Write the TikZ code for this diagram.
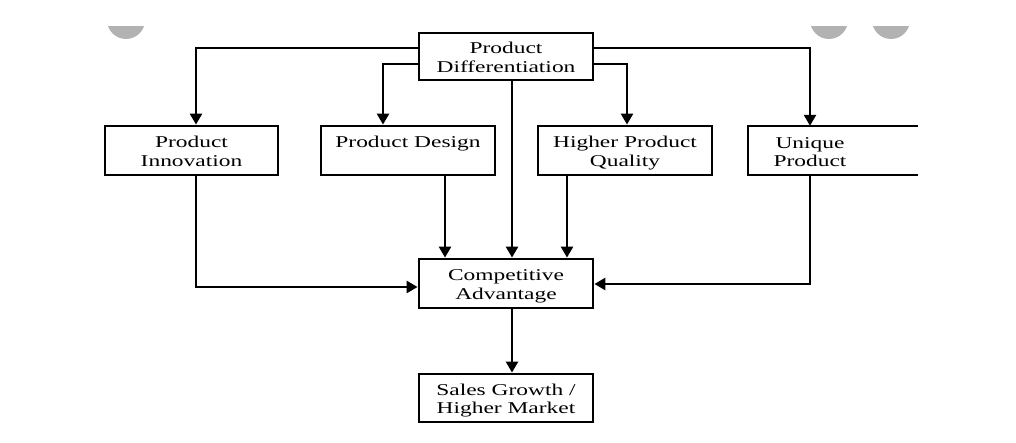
\documentclass[tikz,border=0pt]{standalone}
\usepackage{fontspec}
\usepackage{graphicx}
\setmainfont{Liberation Serif}
\usetikzlibrary{arrows.meta}
\newcommand{\wtxt}[1]{\raisebox{-3pt}[\height][\depth]{\scalebox{1.42}[1]{\fontsize{16.5pt}{18.5pt}\selectfont\begin{tabular}{@{}c@{}}#1\end{tabular}}}}
\tikzset{
  box/.style={draw, line width=2.8pt, inner sep=0pt, minimum width=#1, minimum height=48pt},
  box/.default=174pt,
  lbl/.style={inner sep=0pt},
  link/.style={line width=2.5pt, -{Triangle[width=12pt,length=11pt]}},
  ui/.style={fill=gray!60}
}
\begin{document}
\begin{tikzpicture}[x=1pt,y=-1pt]
\useasboundingbox (0,0) rectangle (1016,443);
% faded screenshot controls
\begin{scope}
\clip (0,27) rectangle (1016,443);
\fill[ui] (126,20) circle (19);
\fill[ui] (829,20) circle (19);
\fill[ui] (891,20) circle (19);
\end{scope}
% boxes
\node[box, minimum height=47pt] (diff) at (506,56.5) {\wtxt{Product\\Differentiation}};
\node[box=173pt, minimum height=49pt] (inno) at (191.5,150.5) {\wtxt{Product\\Innovation}};
\node[box, minimum height=49pt] (des) at (408,150.5) {\wtxt{Product Design\\\strut}};
\node[box, minimum height=49pt] (qual) at (625,150.5) {\wtxt{Higher Product\\Quality}};
\node[lbl, minimum width=170pt, minimum height=49pt] (uniq) at (833,150.5) {};
\node[lbl] (uniqt) at (810,151) {\wtxt{Unique\\Product}};
\draw[line width=2.5pt] (uniq.north east) -- (uniq.north west) -- (uniq.south west) -- (uniq.south east);
\node[box, minimum height=49pt] (comp) at (506,283.5) {\wtxt{Competitive\\Advantage}};
\node[box, minimum height=48pt] (sales) at (506,398) {\wtxt{Sales Growth /\\Higher Market}};
% helper coordinates
\coordinate (r48) at (0,48);
\coordinate (r64) at (0,64);
\coordinate (r287) at (0,287);
\coordinate (r284) at (0,284);
\coordinate (c196) at (196,0);
\coordinate (c383) at (383,0);
\coordinate (c445) at (445,0);
\coordinate (c512) at (512,0);
\coordinate (c567) at (567,0);
\coordinate (c627) at (627,0);
\coordinate (c810) at (810,0);
% connectors from Product Differentiation
\draw[link] (diff.west |- r48) -| (inno.north -| c196);
\draw[link] (diff.west |- r64) -| (des.north -| c383);
\draw[link] (diff.east |- r64) -| (qual.north -| c627);
\draw[link] (diff.east |- r48) -| (uniq.north -| c810);
\draw[link] (diff.south -| c512) -- (comp.north -| c512);
% into Competitive Advantage
\draw[link] (des.south -| c445) -- (comp.north -| c445);
\draw[link] (qual.south -| c567) -- (comp.north -| c567);
\draw[link] (inno.south -| c196) |- (comp.west |- r287);
\draw[link] (uniq.south -| c810) |- (comp.east |- r284);
% to Sales Growth
\draw[link] (comp.south -| c512) -- (sales.north -| c512);
\end{tikzpicture}
\end{document}
